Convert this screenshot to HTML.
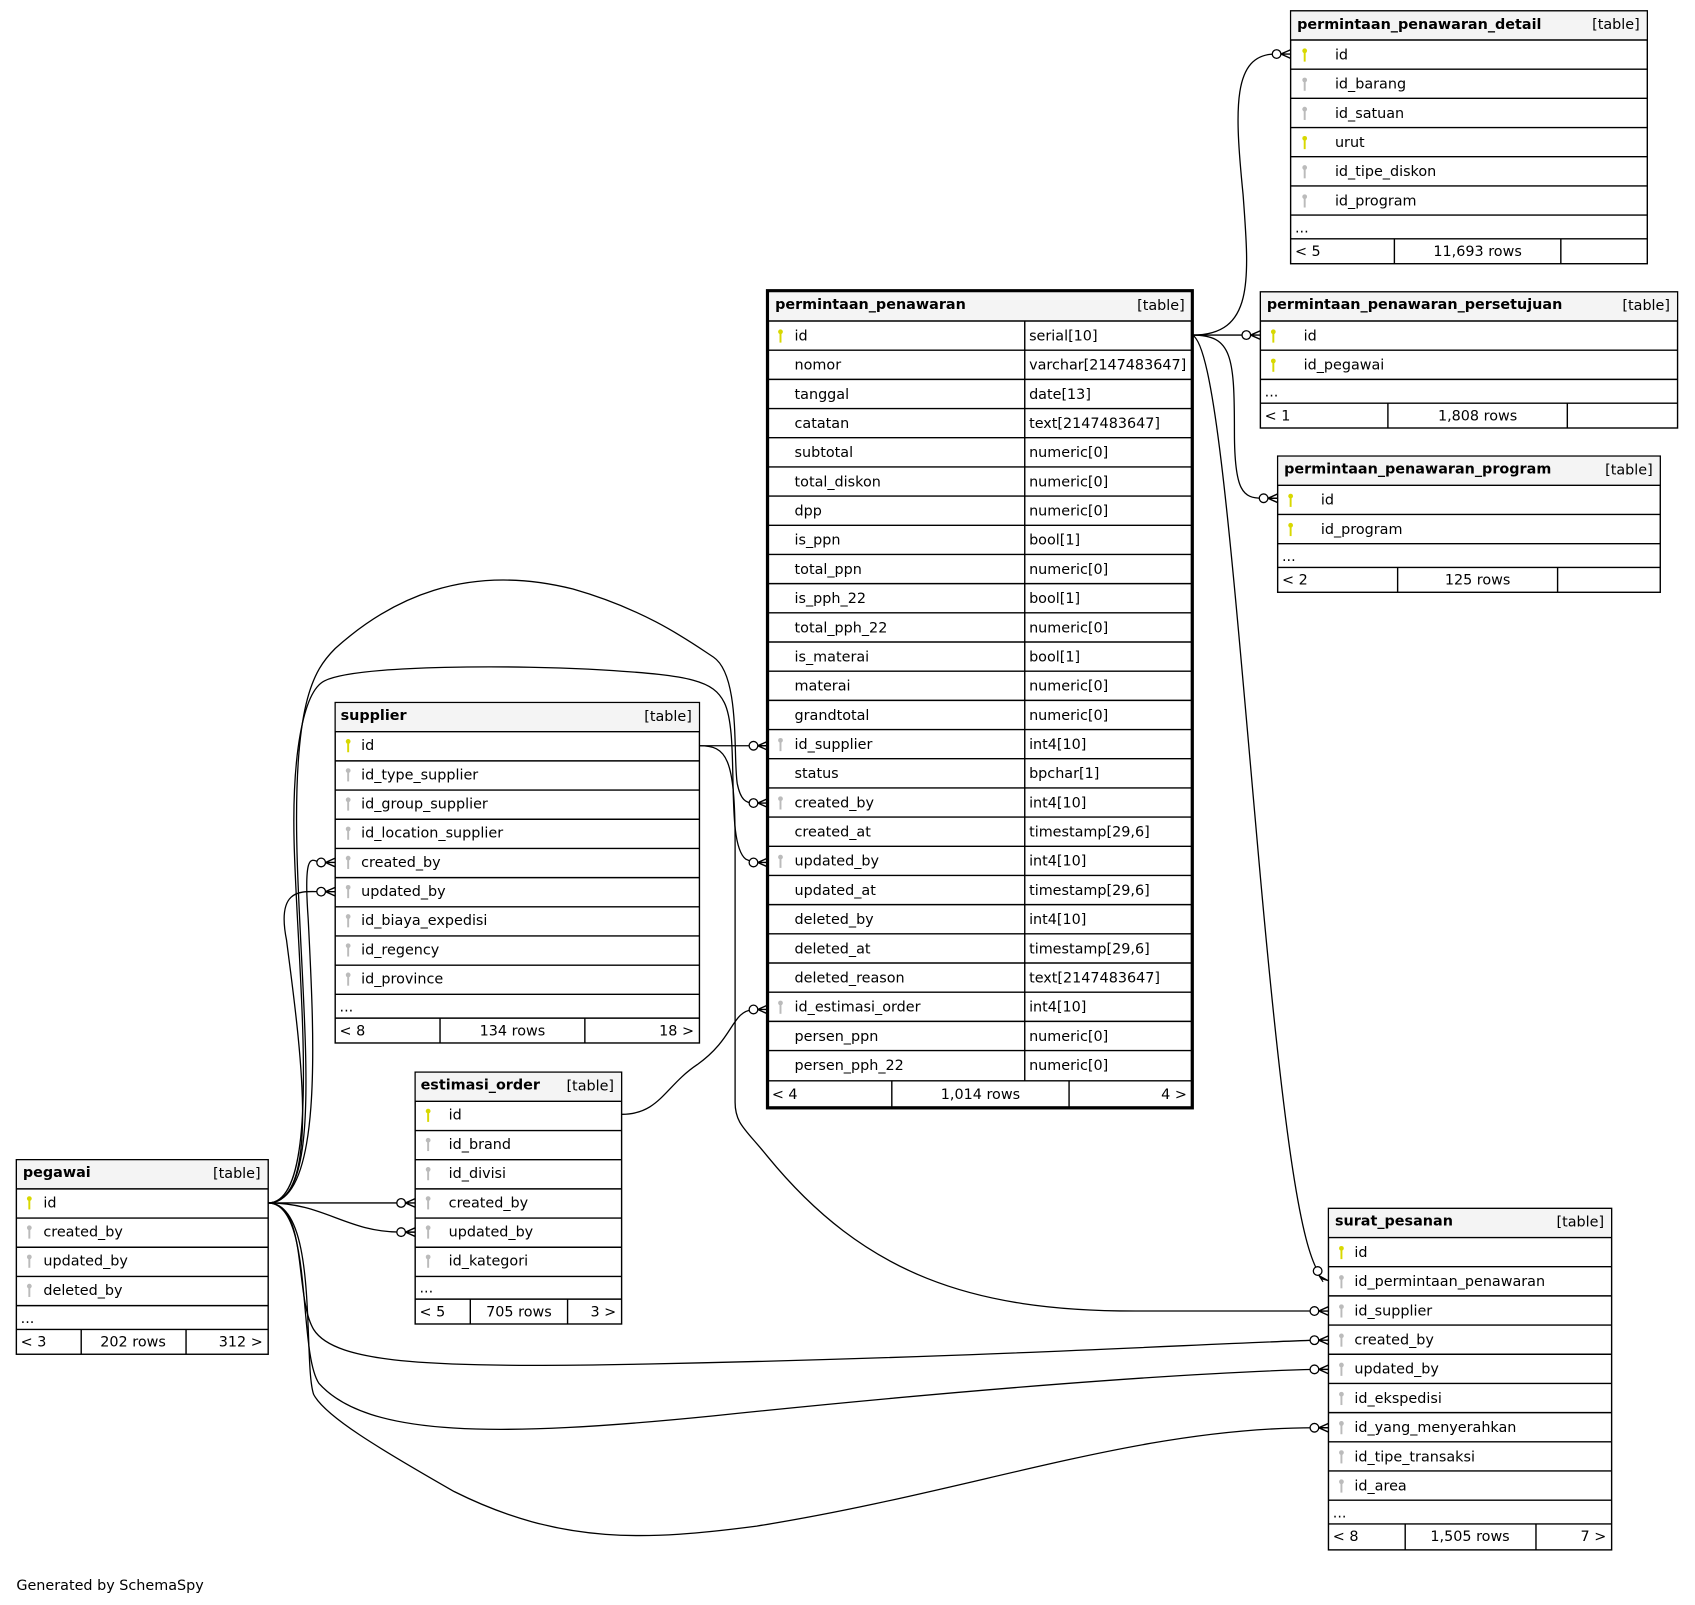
<!DOCTYPE html>
<html><head><meta charset="utf-8"><style>
html,body{margin:0;padding:0;background:#fff;}
svg{display:block;}
text{font-family:"DejaVu Sans","Liberation Sans",sans-serif;font-size:13.3px;fill:#000;}
.b{font-weight:bold;}
.h{fill:#f4f4f4;}
</style></head><body>
<svg width="1695" height="1605" viewBox="0 0 1568 1485" xmlns="http://www.w3.org/2000/svg">
<defs>
<g id="crow"><circle cx="-13" cy="0" r="4" fill="#fff" stroke="#000" stroke-width="1.2"/><path d="M-9,0 L0,-4 M-9,0 L0,0 M-9,0 L0,4" stroke="#000" stroke-width="1.3" fill="none"/></g>
<g id="pk"><circle cx="0" cy="-3" r="2.2" fill="#d8d800"/><rect x="-0.9" y="-2" width="1.8" height="9" fill="#d8d800"/></g>
<g id="fk"><circle cx="0" cy="-3" r="2.2" fill="#bbb"/><rect x="-0.9" y="-2" width="1.8" height="9" fill="#bbb"/></g>
</defs>
<rect width="1568" height="1485" fill="#fff"/>

<g fill="none" stroke="#000" stroke-width="1.2">
<path d="M1103,310 C1160,310 1156,260 1150,180 C1142,100 1140,50 1180,50"/>
<path d="M1103,310 L1153,310"/>
<path d="M1103,310 C1140,310 1142,330 1142,400 C1142,455 1150,461 1168,461"/>
<path d="M1103,310 C1125,320 1140,520 1165,800 C1190,1080 1205,1150 1219,1176"/>
<path d="M647,690 L697,690"/>
<path d="M647,690 C672,690 680,700 680,780 L680,1020 C680,1040 690,1045 710,1070 C800,1180 900,1213 1050,1213 L1216,1213"/>
<path d="M248,1113 C300,1113 290,950 285,850 C280,780 290,798 297,798"/>
<path d="M248,1113 C300,1113 275,950 265,870 C255,820 280,825 297,825"/>
<path d="M248,1113 C300,1113 280,950 275,800 C270,650 290,620 310,600 C360,555 430,520 530,545 C600,565 640,595 660,608 C685,625 678,700 682,725 C685,740 690,743 697,743"/>
<path d="M248,1113 C300,1113 275,900 272,780 C270,700 280,640 300,630 C330,615 480,615 560,620 C640,625 660,630 670,650 C685,680 670,780 690,795 L697,798"/>
<path d="M248,1113 L371,1113"/>
<path d="M248,1113 C300,1113 320,1140 371,1140"/>
<path d="M575,1031 C610,1031 615,1005 645,985 C680,960 676,936 697,934"/>
<path d="M248,1113 C285,1113 272,1200 290,1230 C310,1262 400,1266 600,1262 C900,1256 1100,1244 1216,1240"/>
<path d="M248,1113 C290,1113 275,1250 295,1280 C340,1330 460,1330 660,1310 C900,1285 1100,1270 1216,1267"/>
<path d="M248,1113 C295,1113 280,1260 290,1290 C300,1310 350,1340 420,1380 C520,1430 600,1425 700,1412 C900,1380 1050,1321 1216,1321"/>
</g>
<use href="#crow" x="1194" y="50"/>
<use href="#crow" x="1166" y="310"/>
<use href="#crow" x="1182" y="461"/>
<use href="#crow" x="710" y="690"/>
<use href="#crow" x="710" y="743"/>
<use href="#crow" x="710" y="798"/>
<use href="#crow" x="710" y="934"/>
<use href="#crow" x="310" y="798"/>
<use href="#crow" x="310" y="825"/>
<use href="#crow" x="384" y="1113"/>
<use href="#crow" x="384" y="1140"/>
<use href="#crow" x="1229" y="1213"/>
<use href="#crow" x="1229" y="1240"/>
<use href="#crow" x="1229" y="1267"/>
<use href="#crow" x="1229" y="1321"/>
<circle cx="1219" cy="1176" r="4" fill="#fff" stroke="#000" stroke-width="1.2"/>
<path d="M1224,1186 L1220,1180 L1229,1185 L1222,1183 Z" fill="#000" stroke="#000"/>

<g>
<rect x="1194" y="10" width="330" height="234" fill="#fff" stroke="#000" stroke-width="1.3"/>
<rect x="1194.6" y="10.6" width="328.8" height="26.4" class="h"/>
<path d="M1194,37H1524M1194,64H1524M1194,91H1524M1194,118H1524M1194,145H1524M1194,172H1524M1194,199H1524M1194,221H1524M1290,221V244M1444,221V244" stroke="#000" stroke-width="1.3"/>
<text class="b" x="1200" y="27">permintaan_penawaran_detail</text><text x="1517" y="27" text-anchor="end">[table]</text>
<use href="#pk" x="1207" y="50"/><text x="1235" y="55">id</text>
<use href="#fk" x="1207" y="77"/><text x="1235" y="82">id_barang</text>
<use href="#fk" x="1207" y="104"/><text x="1235" y="109">id_satuan</text>
<use href="#pk" x="1207" y="131"/><text x="1235" y="136">urut</text>
<use href="#fk" x="1207" y="158"/><text x="1235" y="163">id_tipe_diskon</text>
<use href="#fk" x="1207" y="185"/><text x="1235" y="190">id_program</text>
<text x="1198" y="215">...</text>
<text x="1198" y="237">&lt; 5</text><text x="1367" y="237" text-anchor="middle">11,693 rows</text>
</g>

<g>
<rect x="1166" y="270" width="386" height="126" fill="#fff" stroke="#000" stroke-width="1.3"/>
<rect x="1166.6" y="270.6" width="384.8" height="26.4" class="h"/>
<path d="M1166,297H1552M1166,324H1552M1166,351H1552M1166,373H1552M1284,373V396M1450,373V396" stroke="#000" stroke-width="1.3"/>
<text class="b" x="1172" y="286">permintaan_penawaran_persetujuan</text><text x="1545" y="287" text-anchor="end">[table]</text>
<use href="#pk" x="1178" y="310"/><text x="1206" y="315">id</text>
<use href="#pk" x="1178" y="337"/><text x="1206" y="342">id_pegawai</text>
<text x="1170" y="367">...</text>
<text x="1170" y="389">&lt; 1</text><text x="1367" y="389" text-anchor="middle">1,808 rows</text>
</g>

<g>
<rect x="1182" y="422" width="354" height="126" fill="#fff" stroke="#000" stroke-width="1.3"/>
<rect x="1182.6" y="422.6" width="352.8" height="26.4" class="h"/>
<path d="M1182,449H1536M1182,476H1536M1182,503H1536M1182,525H1536M1293,525V548M1441,525V548" stroke="#000" stroke-width="1.3"/>
<text class="b" x="1188" y="438">permintaan_penawaran_program</text><text x="1529" y="439" text-anchor="end">[table]</text>
<use href="#pk" x="1194" y="462"/><text x="1222" y="467">id</text>
<use href="#pk" x="1194" y="489"/><text x="1222" y="494">id_program</text>
<text x="1186" y="519">...</text>
<text x="1186" y="541">&lt; 2</text><text x="1367" y="541" text-anchor="middle">125 rows</text>
</g>

<g>
<rect x="710" y="269" width="393" height="756" fill="#fff" stroke="#000" stroke-width="3"/>
<rect x="711.5" y="270.5" width="390" height="26" class="h"/>
<g stroke="#000" stroke-width="1.3">
<path d="M710,297H1103M710,324H1103M710,351H1103M710,378H1103M710,405H1103M710,432H1103M710,459H1103M710,486H1103M710,513H1103M710,540H1103M710,567H1103M710,594H1103M710,621H1103M710,648H1103M710,675H1103M710,702H1103M710,729H1103M710,756H1103M710,783H1103M710,810H1103M710,837H1103M710,864H1103M710,891H1103M710,918H1103M710,945H1103M710,972H1103M710,1000H1103M948,297V1000M825,1000V1025M989,1000V1025"/>
</g>
<text class="b" x="717" y="286">permintaan_penawaran</text><text x="1096" y="287" text-anchor="end">[table]</text>
<use href="#pk" x="722" y="310"/>
<use href="#fk" x="722" y="688"/>
<use href="#fk" x="722" y="742"/>
<use href="#fk" x="722" y="796"/>
<use href="#fk" x="722" y="931"/>
<g>
<text x="735" y="315">id</text><text x="952" y="315">serial[10]</text>
<text x="735" y="342">nomor</text><text x="952" y="342">varchar[2147483647]</text>
<text x="735" y="369">tanggal</text><text x="952" y="369">date[13]</text>
<text x="735" y="396">catatan</text><text x="952" y="396">text[2147483647]</text>
<text x="735" y="423">subtotal</text><text x="952" y="423">numeric[0]</text>
<text x="735" y="450">total_diskon</text><text x="952" y="450">numeric[0]</text>
<text x="735" y="477">dpp</text><text x="952" y="477">numeric[0]</text>
<text x="735" y="504">is_ppn</text><text x="952" y="504">bool[1]</text>
<text x="735" y="531">total_ppn</text><text x="952" y="531">numeric[0]</text>
<text x="735" y="558">is_pph_22</text><text x="952" y="558">bool[1]</text>
<text x="735" y="585">total_pph_22</text><text x="952" y="585">numeric[0]</text>
<text x="735" y="612">is_materai</text><text x="952" y="612">bool[1]</text>
<text x="735" y="639">materai</text><text x="952" y="639">numeric[0]</text>
<text x="735" y="666">grandtotal</text><text x="952" y="666">numeric[0]</text>
<text x="735" y="693">id_supplier</text><text x="952" y="693">int4[10]</text>
<text x="735" y="720">status</text><text x="952" y="720">bpchar[1]</text>
<text x="735" y="747">created_by</text><text x="952" y="747">int4[10]</text>
<text x="735" y="774">created_at</text><text x="952" y="774">timestamp[29,6]</text>
<text x="735" y="801">updated_by</text><text x="952" y="801">int4[10]</text>
<text x="735" y="828">updated_at</text><text x="952" y="828">timestamp[29,6]</text>
<text x="735" y="855">deleted_by</text><text x="952" y="855">int4[10]</text>
<text x="735" y="882">deleted_at</text><text x="952" y="882">timestamp[29,6]</text>
<text x="735" y="909">deleted_reason</text><text x="952" y="909">text[2147483647]</text>
<text x="735" y="936">id_estimasi_order</text><text x="952" y="936">int4[10]</text>
<text x="735" y="963">persen_ppn</text><text x="952" y="963">numeric[0]</text>
<text x="735" y="990">persen_pph_22</text><text x="952" y="990">numeric[0]</text>
</g>
<text x="714" y="1017">&lt; 4</text><text x="907" y="1017" text-anchor="middle">1,014 rows</text><text x="1098" y="1017" text-anchor="end">4 &gt;</text>
</g>

<g>
<rect x="310" y="650" width="337" height="315" fill="#fff" stroke="#000" stroke-width="1.3"/>
<rect x="310.6" y="650.6" width="335.8" height="26.4" class="h"/>
<path d="M310,677H647M310,704H647M310,731H647M310,758H647M310,785H647M310,812H647M310,839H647M310,866H647M310,893H647M310,920H647M310,942H647M407,942V965M541,942V965" stroke="#000" stroke-width="1.3"/>
<text class="b" x="315" y="666">supplier</text><text x="640" y="667" text-anchor="end">[table]</text>
<use href="#pk" x="322" y="689"/><text x="334" y="694">id</text>
<use href="#fk" x="322" y="716"/><text x="334" y="721">id_type_supplier</text>
<use href="#fk" x="322" y="743"/><text x="334" y="748">id_group_supplier</text>
<use href="#fk" x="322" y="770"/><text x="334" y="775">id_location_supplier</text>
<use href="#fk" x="322" y="797"/><text x="334" y="802">created_by</text>
<use href="#fk" x="322" y="824"/><text x="334" y="829">updated_by</text>
<use href="#fk" x="322" y="851"/><text x="334" y="856">id_biaya_expedisi</text>
<use href="#fk" x="322" y="878"/><text x="334" y="883">id_regency</text>
<use href="#fk" x="322" y="905"/><text x="334" y="910">id_province</text>
<text x="314" y="936">...</text>
<text x="314" y="958">&lt; 8</text><text x="474" y="958" text-anchor="middle">134 rows</text><text x="642" y="958" text-anchor="end">18 &gt;</text>
</g>

<g>
<rect x="384" y="992" width="191" height="233" fill="#fff" stroke="#000" stroke-width="1.3"/>
<rect x="384.6" y="992.6" width="189.8" height="26.4" class="h"/>
<path d="M384,1019H575M384,1046H575M384,1073H575M384,1100H575M384,1127H575M384,1154H575M384,1181H575M384,1202H575M435,1202V1225M525,1202V1225" stroke="#000" stroke-width="1.3"/>
<text class="b" x="389" y="1008">estimasi_order</text><text x="568" y="1009" text-anchor="end">[table]</text>
<use href="#pk" x="396" y="1031"/><text x="415" y="1036">id</text>
<use href="#fk" x="396" y="1058"/><text x="415" y="1063">id_brand</text>
<use href="#fk" x="396" y="1085"/><text x="415" y="1090">id_divisi</text>
<use href="#fk" x="396" y="1112"/><text x="415" y="1117">created_by</text>
<use href="#fk" x="396" y="1139"/><text x="415" y="1144">updated_by</text>
<use href="#fk" x="396" y="1166"/><text x="415" y="1171">id_kategori</text>
<text x="388" y="1196">...</text>
<text x="388" y="1218">&lt; 5</text><text x="480" y="1218" text-anchor="middle">705 rows</text><text x="570" y="1218" text-anchor="end">3 &gt;</text>
</g>

<g>
<rect x="15" y="1073" width="233" height="180" fill="#fff" stroke="#000" stroke-width="1.3"/>
<rect x="15.6" y="1073.6" width="231.8" height="26.4" class="h"/>
<path d="M15,1100H248M15,1127H248M15,1154H248M15,1181H248M15,1208H248M15,1230H248M75,1230V1253M172,1230V1253" stroke="#000" stroke-width="1.3"/>
<text class="b" x="21" y="1089">pegawai</text><text x="241" y="1090" text-anchor="end">[table]</text>
<use href="#pk" x="27" y="1112"/><text x="40" y="1117">id</text>
<use href="#fk" x="27" y="1139"/><text x="40" y="1144">created_by</text>
<use href="#fk" x="27" y="1166"/><text x="40" y="1171">updated_by</text>
<use href="#fk" x="27" y="1193"/><text x="40" y="1198">deleted_by</text>
<text x="19" y="1224">...</text>
<text x="19" y="1246">&lt; 3</text><text x="123" y="1246" text-anchor="middle">202 rows</text><text x="243" y="1246" text-anchor="end">312 &gt;</text>
</g>

<g>
<rect x="1229" y="1118" width="262" height="316" fill="#fff" stroke="#000" stroke-width="1.3"/>
<rect x="1229.6" y="1118.6" width="260.8" height="26.4" class="h"/>
<path d="M1229,1145H1491M1229,1172H1491M1229,1199H1491M1229,1226H1491M1229,1253H1491M1229,1280H1491M1229,1307H1491M1229,1334H1491M1229,1361H1491M1229,1388H1491M1229,1410H1491M1300,1410V1434M1421,1410V1434" stroke="#000" stroke-width="1.3"/>
<text class="b" x="1235" y="1134">surat_pesanan</text><text x="1484" y="1135" text-anchor="end">[table]</text>
<use href="#pk" x="1241" y="1158"/><text x="1253" y="1163">id</text>
<use href="#fk" x="1241" y="1185"/><text x="1253" y="1190">id_permintaan_penawaran</text>
<use href="#fk" x="1241" y="1212"/><text x="1253" y="1217">id_supplier</text>
<use href="#fk" x="1241" y="1239"/><text x="1253" y="1244">created_by</text>
<use href="#fk" x="1241" y="1266"/><text x="1253" y="1271">updated_by</text>
<use href="#fk" x="1241" y="1293"/><text x="1253" y="1298">id_ekspedisi</text>
<use href="#fk" x="1241" y="1320"/><text x="1253" y="1325">id_yang_menyerahkan</text>
<use href="#fk" x="1241" y="1347"/><text x="1253" y="1352">id_tipe_transaksi</text>
<use href="#fk" x="1241" y="1374"/><text x="1253" y="1379">id_area</text>
<text x="1233" y="1404">...</text>
<text x="1233" y="1426">&lt; 8</text><text x="1360" y="1426" text-anchor="middle">1,505 rows</text><text x="1486" y="1426" text-anchor="end">7 &gt;</text>
</g>

<text x="15" y="1471">Generated by SchemaSpy</text>
</svg>
</body></html>
